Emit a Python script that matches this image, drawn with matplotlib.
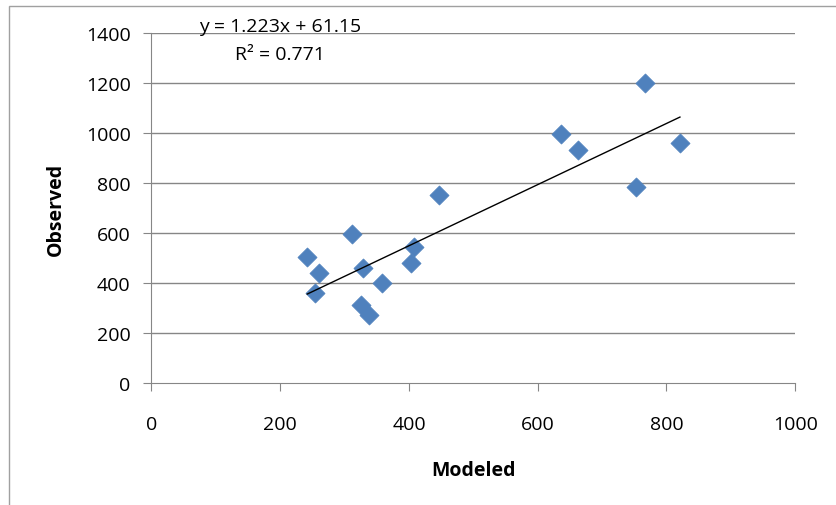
import matplotlib.pyplot as plt
import matplotlib.patches as patches
import numpy as np

plt.rcParams['font.family'] = ['Open Sans', 'DejaVu Sans']

# data
modeled = [242, 254, 260, 311, 325, 328, 338, 358, 403, 408, 446, 636, 663, 752, 766, 821]
observed = [506, 361, 440, 597, 313, 461, 274, 400, 480, 544, 753, 998, 933, 786, 1201, 960]
slope = 1.223
intercept = 61.15
r2 = 0.771

xticks = [0, 200, 400, 600, 800, 1000]
yticks = [0, 200, 400, 600, 800, 1000, 1200, 1400]

fig = plt.figure(figsize=(8.37, 5.06), dpi=100)
ax = fig.add_axes([0.181, 0.2405, 0.769, 0.6915])

# outer chart border (only left/top visible in the original)
fig.patches.append(patches.Rectangle((9/837, -0.1), 1.2, 1 - 7/506 + 0.1,
                                     transform=fig.transFigure, fill=False,
                                     edgecolor='#a0a0a0', linewidth=1))

grid_c = '#868686'
for y in yticks[1:]:
    ax.axhline(y, color=grid_c, linewidth=1, zorder=1)

ax.scatter(modeled, observed, marker='D', s=95, color='#4F81BD',
           edgecolors='#4F81BD', linewidths=0.5, zorder=3)

xs = np.array([min(modeled), max(modeled)])
ax.plot(xs, slope * xs + intercept, color='black', linewidth=1, zorder=4)

ax.set_xlim(0, 1000)
ax.set_ylim(0, 1400)
ax.set_xticks(xticks)
ax.set_yticks(yticks)
ax.tick_params(axis='x', direction='out', length=6, color=grid_c, labelsize=14, pad=17)
ax.tick_params(axis='y', direction='out', length=6, color=grid_c, labelsize=14, pad=9)

ax.spines['top'].set_visible(False)
ax.spines['right'].set_visible(False)
ax.spines['left'].set_color(grid_c)
ax.spines['bottom'].set_color(grid_c)

ax.set_xlabel('Modeled', fontsize=14, fontweight='bold', labelpad=19)
ax.set_ylabel('Observed', fontsize=14, fontweight='bold', labelpad=14)

ax.text(200, 1430, 'y = %.3fx + %.2f' % (slope, intercept), ha='center', va='center',
        fontsize=14, clip_on=False)
ax.text(200, 1317, 'R² = %.3f' % r2, ha='center', va='center', fontsize=14, clip_on=False)

fig.savefig('out.png', dpi=100)
